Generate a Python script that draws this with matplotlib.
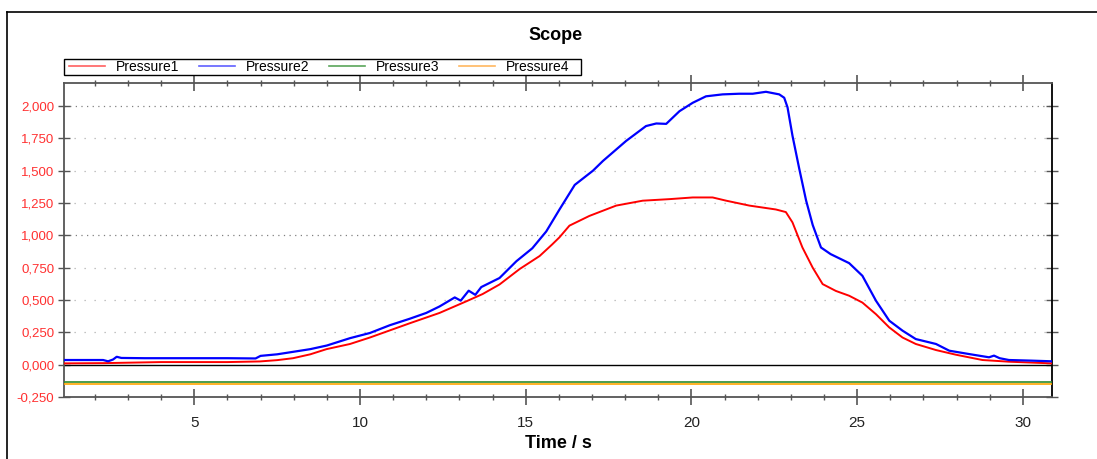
import matplotlib
matplotlib.use("Agg")
import matplotlib.pyplot as plt
from matplotlib.ticker import MultipleLocator, FuncFormatter
from matplotlib.lines import Line2D
from matplotlib.patches import Rectangle

plt.rcParams['font.family'] = ['Liberation Sans', 'DejaVu Sans']

# ---- data ----
t_p1 = [1.07, 2.3, 4.0, 6.0, 6.98, 7.5, 7.98, 8.5, 8.99, 9.7, 10.3, 10.9, 11.5, 12.4,
        13.21, 13.7, 14.21, 14.82, 15.42, 15.8, 16.02, 16.32, 16.92, 17.73, 18.53,
        19.34, 20.04, 20.64, 21.05, 21.75, 22.55, 22.85, 23.05, 23.35, 23.66, 23.96,
        24.36, 24.76, 25.16, 25.57, 25.97, 26.37, 26.77, 27.38, 27.98, 28.78, 29.58, 30.88]
pressure1 = [0.01, 0.012, 0.02, 0.02, 0.025, 0.035, 0.05, 0.08, 0.12, 0.16, 0.21, 0.265,
             0.32, 0.40, 0.49, 0.546, 0.62, 0.74, 0.84, 0.93, 0.985, 1.075, 1.15, 1.23,
             1.268, 1.28, 1.293, 1.293, 1.268, 1.23, 1.20, 1.18, 1.10, 0.906, 0.75, 0.623,
             0.57, 0.533, 0.48, 0.39, 0.288, 0.21, 0.16, 0.113, 0.077, 0.036, 0.023, 0.01]

t_p2 = [1.07, 2.25, 2.4, 2.55, 2.66, 2.8, 3.5, 5.0, 6.0, 6.85, 7.0, 7.5, 8.0, 8.5, 9.0,
        9.7, 10.3, 10.9, 11.5, 12.0, 12.4, 12.86, 13.04, 13.28, 13.48, 13.66, 14.21,
        14.72, 15.2, 15.62, 16.02, 16.48, 17.03, 17.33, 18.03, 18.63, 18.94, 19.24,
        19.64, 20.04, 20.44, 20.94, 21.44, 21.85, 22.25, 22.65, 22.80, 22.90, 23.05,
        23.25, 23.46, 23.66, 23.91, 24.2, 24.76, 25.16, 25.57, 25.97, 26.37, 26.77,
        27.38, 27.78, 28.38, 28.98, 29.13, 29.3, 29.58, 30.28, 30.88]
pressure2 = [0.036, 0.036, 0.026, 0.04, 0.061, 0.052, 0.05, 0.05, 0.05, 0.048, 0.068,
             0.08, 0.10, 0.12, 0.148, 0.205, 0.245, 0.305, 0.355, 0.40, 0.45, 0.52, 0.495,
             0.572, 0.54, 0.60, 0.67, 0.80, 0.90, 1.03, 1.20, 1.39, 1.50, 1.575, 1.73,
             1.845, 1.865, 1.862, 1.96, 2.025, 2.075, 2.09, 2.095, 2.095, 2.11, 2.09,
             2.064, 1.99, 1.77, 1.52, 1.27, 1.08, 0.906, 0.855, 0.785, 0.687, 0.494,
             0.34, 0.263, 0.198, 0.16, 0.108, 0.082, 0.057, 0.07, 0.05, 0.036, 0.031, 0.026]

t_p34 = [1.07, 30.88]
pressure3 = [-0.137, -0.137]
pressure4 = [-0.146, -0.146]

series_names = ["Pressure1", "Pressure2", "Pressure3", "Pressure4"]
series_colors = ["#ff0000", "#0000ff", "#2e8b2e", "#ffa500"]
legend_colors = ["#ff6060", "#6060ff", "#5aa55a", "#ffb860"]

W, H = 1097, 459
fig = plt.figure(figsize=(W / 100, H / 100), dpi=100)

# outer frame (top and left edges visible)
fig.add_artist(Line2D([7 / W, 1.0], [1 - 12 / H, 1 - 12 / H], color="black", lw=1.2,
                      transform=fig.transFigure))
fig.add_artist(Line2D([7 / W, 7 / W], [0.0, 1 - 12 / H], color="black", lw=1.2,
                      transform=fig.transFigure))

ax = fig.add_axes([64 / W, 1 - 397 / H, (1052 - 64) / W, (397 - 83) / H])

ax.set_xlim(1.07, 30.88)
ax.set_ylim(-0.25, 2.178)

# grid lines (horizontal only)
for v in [0.25 * k for k in range(1, 9)]:
    if abs(v - 1.0) < 1e-9 or abs(v - 2.0) < 1e-9:
        ax.axhline(v, color="#808080", lw=0.9, ls=(0, (1, 3.5)), zorder=1)
    else:
        ax.axhline(v, color="#b0b0b0", lw=0.9, ls=(0, (1, 7)), zorder=1)
ax.axhline(0.0, color="black", lw=1.0, zorder=2)

ax.plot(t_p34, pressure3, color=series_colors[2], lw=1.2, zorder=3)
ax.plot(t_p34, pressure4, color=series_colors[3], lw=1.2, zorder=3)
ax.plot(t_p1, pressure1, color=series_colors[0], lw=1.4, zorder=4)
ax.plot(t_p2, pressure2, color=series_colors[1], lw=1.6, zorder=5)

# ticks
ax.xaxis.set_major_locator(MultipleLocator(5))
ax.xaxis.set_minor_locator(MultipleLocator(1))
ax.yaxis.set_major_locator(MultipleLocator(0.25))
ax.yaxis.set_major_formatter(FuncFormatter(
    lambda v, p: f"{v:.3f}".replace(".", ",").replace("-0,000", "0,000")))
ax.tick_params(axis="x", which="major", direction="inout", length=11, width=1.2,
               color="#555555", labelsize=11, labelcolor="#222222", pad=8,
               top=True, bottom=True)
ax.tick_params(axis="x", which="minor", direction="inout", length=5, width=1,
               color="#555555", top=True, bottom=True)
ax.tick_params(axis="y", which="major", direction="inout", length=8, width=1,
               color="#555555", labelsize=9.5, labelcolor="#ff3030", pad=3,
               left=True, right=True)

for s in ax.spines.values():
    s.set_color("#555555")
    s.set_linewidth(1.3)
ax.spines["right"].set_color("black")

ax.set_xlabel("Time / s", fontsize=13, fontweight="bold", labelpad=4)

fig.text(556 / W, 1 - 36 / H, "Scope", fontsize=13, fontweight="bold",
         ha="center", va="center")

# legend (box drawn separately)
fig.add_artist(Rectangle((64 / W, 1 - 75 / H), (581 - 64) / W, (75 - 59) / H,
                         transform=fig.transFigure, fill=True, facecolor="white",
                         edgecolor="black", lw=1.0, zorder=5))
handles = [Line2D([], [], color=c, lw=1.2) for c in legend_colors]
leg = fig.legend(handles, series_names, loc="center left",
                 bbox_to_anchor=(69 / W, 1 - 67 / H), ncol=4, fontsize=10,
                 frameon=False, handlelength=2.6, handletextpad=0.8,
                 columnspacing=1.38, borderpad=0.0, borderaxespad=0)
leg.set_zorder(6)

fig.savefig("out.png", dpi=100)
